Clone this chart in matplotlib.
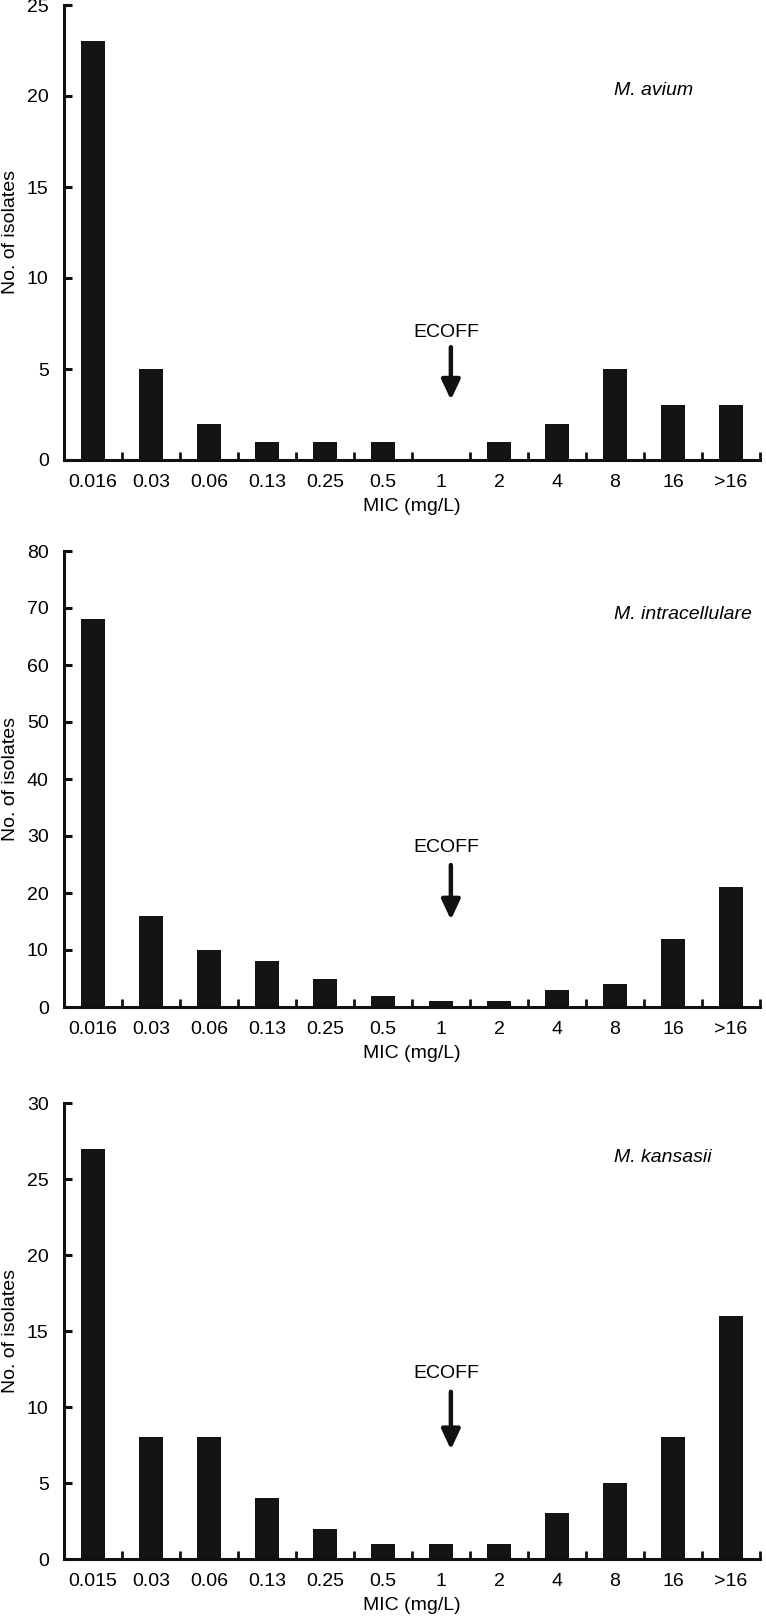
import matplotlib
matplotlib.use("Agg")
import matplotlib.pyplot as plt
import numpy as np

plt.rcParams['font.family'] = ['Liberation Sans', 'DejaVu Sans']

categories_a = ["0.016", "0.03", "0.06", "0.13", "0.25", "0.5", "1", "2", "4", "8", "16", ">16"]
categories_k = ["0.015", "0.03", "0.06", "0.13", "0.25", "0.5", "1", "2", "4", "8", "16", ">16"]

avium = [23, 5, 2, 1, 1, 1, 0, 1, 2, 5, 3, 3]
intracellulare = [68, 16, 10, 8, 5, 2, 1, 1, 3, 4, 12, 21]
kansasii = [27, 8, 8, 4, 2, 1, 1, 1, 3, 5, 8, 16]

species = ["M. avium", "M. intracellulare", "M. kansasii"]
ymax = [25, 80, 30]
ystep = [5, 10, 5]

W, H = 766, 1621
fig = plt.figure(figsize=(W / 100, H / 100), dpi=100)

# (top px, bottom px) of each axes
boxes = [(5, 460), (551, 1007), (1103, 1559)]
left_px, right_px = 64, 760

# ECOFF annotation: (text y, arrow top, arrow tip) in data units
ecoff = [(7.0, 6.2, 3.3), (27.9, 24.9, 15.3), (12.2, 11.0, 7.2)]
species_y = [0.813, 0.86, 0.88]

datasets = [avium, intracellulare, kansasii]
cats = [categories_a, categories_a, categories_k]

bar_color = "#141414"
lw_axis = 2.2
fs = 14

for i in range(3):
    top, bot = boxes[i]
    ax = fig.add_axes([left_px / W, 1 - bot / H, (right_px - left_px) / W, (bot - top) / H])
    x = np.arange(len(cats[i]))
    ax.bar(x, datasets[i], width=0.4, color=bar_color, zorder=2)
    ax.set_xlim(-0.5, len(cats[i]) - 0.5)
    ax.set_ylim(0, ymax[i])
    for s in ["top", "right"]:
        ax.spines[s].set_visible(False)
    for s in ["left", "bottom"]:
        ax.spines[s].set_linewidth(lw_axis)
        ax.spines[s].set_color("#111111")
        ax.spines[s].set_zorder(3)
    ax.set_xticks(x)
    ax.set_xticklabels(cats[i])
    ax.set_xticks(np.arange(0.5, len(cats[i]), 1.0), minor=True)
    ax.tick_params(axis="x", which="major", length=0, pad=10, labelsize=fs)
    ax.tick_params(axis="x", which="minor", direction="in", length=5.5, width=2.0, color="#111111")
    ax.set_yticks(np.arange(0, ymax[i] + 0.1, ystep[i]))
    ax.tick_params(axis="y", which="major", direction="in", length=6, width=2.2,
                   color="#111111", pad=11, labelsize=fs)
    ax.set_xlabel("MIC (mg/L)", fontsize=fs, labelpad=5)
    ax.set_ylabel("No. of isolates", fontsize=fs)
    ax.yaxis.set_label_coords(-0.064, 0.5)
    ax.text(0.79, species_y[i], species[i], transform=ax.transAxes, fontsize=fs,
            style="italic", ha="left", va="center")
    ty, atop, atip = ecoff[i]
    ax.text(6.1, ty, "ECOFF", fontsize=fs, ha="center", va="center")
    ax.annotate("", xy=(6.17, atip), xytext=(6.17, atop),
                arrowprops=dict(arrowstyle="-|>,head_length=0.6,head_width=0.28",
                                mutation_scale=20, lw=3.2, color="#111111",
                                shrinkA=0, shrinkB=0))

fig.savefig("out.png", dpi=100)
